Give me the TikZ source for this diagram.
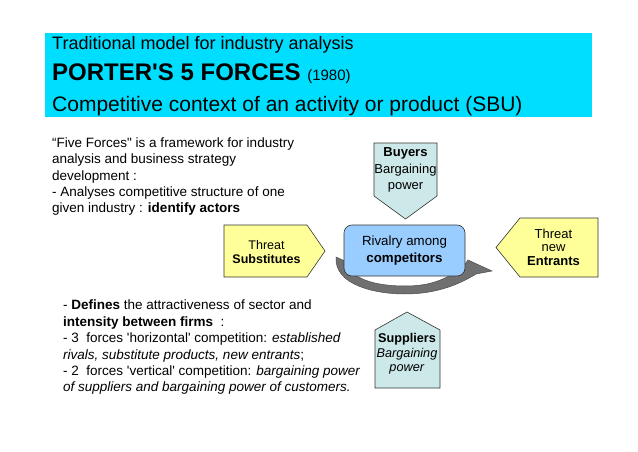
\documentclass[tikz,border=0pt]{standalone}
\usepackage{fontspec}
\setmainfont{Liberation Sans}
\usetikzlibrary{positioning}

\definecolor{bannerCyan}{RGB}{0,222,255}
\definecolor{powerFill}{RGB}{204,232,232}
\definecolor{threatFill}{RGB}{255,255,153}
\definecolor{rivalFill}{RGB}{153,204,255}
\definecolor{loopGray}{RGB}{112,112,112}

\begin{document}
\begin{tikzpicture}[
    x=1pt, y=1pt,
    shapebox/.style={
        draw=black!80,
        line width=0.6pt,
        line join=miter
    },
    label/.style={
        align=center,
        inner sep=0pt,
        font=\fontsize{13}{14.5}\selectfont
    },
    para/.style={
        align=left,
        anchor=north west,
        inner sep=0pt
    },
    titleline/.style={
        anchor=base west,
        inner sep=0pt
    }
]

\useasboundingbox (0,0) rectangle (638,451);

% --- Title banner ---
\node[fill=bannerCyan, minimum width=547, minimum height=84, anchor=south west, inner sep=0pt] (banner) at (45,334) {};
\node[titleline, font=\fontsize{18}{20}\selectfont] (kicker) at (52,401.5) {Traditional model for industry analysis};
\node[titleline, font=\fontsize{24}{26}\selectfont] (title) at (52,370.5) {\textbf{PORTER\textquotesingle S 5 FORCES} {\fontsize{15}{17}\selectfont(1980)}};
\node[titleline, font=\fontsize{21}{24}\selectfont] (subtitle) at (52,340) {Competitive context of an activity or product (SBU)};

% --- Left text blocks ---
\node[para, font=\fontsize{13.5}{16.3}\selectfont] (intro) at (52,313.5) {“Five Forces\textquotedbl{} is a framework for industry\\
analysis and business strategy\\
development :\\
- Analyses competitive structure of one\\
given industry : \textbf{identify actors}};

\node[para, font=\fontsize{13.5}{16.4}\selectfont] (defines) at (63,151) {- \textbf{Defines} the attractiveness of sector and\\
\textbf{intensity between firms}~ :\\
- 3~ forces \textquotesingle horizontal\textquotesingle{} competition: \textit{established}\\
\textit{rivals, substitute products, new entrants};\\
- 2~ forces \textquotesingle vertical\textquotesingle{} competition: \textit{bargaining power}\\
\textit{of suppliers and bargaining power of customers.}};

% --- Force shapes ---
\draw[shapebox, fill=powerFill] (374,308) -- (437,308) -- (437,255) -- (405.5,232) -- (374,255) -- cycle;
\draw[shapebox, fill=threatFill] (224,226) -- (307,226) -- (325,200) -- (307,174) -- (224,174) -- cycle;
\draw[shapebox, fill=threatFill] (520,233) -- (598,233) -- (598,174) -- (520,174) -- (496,203.5) -- cycle;
\draw[shapebox, fill=powerFill] (375,121) -- (407,139) -- (440,121) -- (440,63) -- (375,63) -- cycle;

% --- Rivalry loop (drawn under the box) ---
\draw[fill=loopGray, draw=black!70, line width=0.5pt]
    (336,194) .. controls (334,166) and (375,157) .. (405,157)
    .. controls (437,157) and (460,167) .. (476,177)
    -- (492,180) -- (468,191) -- (463,184)
    .. controls (445,171) and (430,165) .. (405,165)
    .. controls (375,165) and (350,172) .. (345,190) -- cycle;

\node[shapebox, fill=rivalFill, rounded corners=8, minimum width=121, minimum height=51, align=center, font=\fontsize{13.3}{17}\selectfont] (rivalry) at (404.5,200.5) {Rivalry among\\\textbf{competitors}};

% --- Labels ---
\node[label, font=\fontsize{13}{16.7}\selectfont] (buyers) at (405.5,281) {\textbf{Buyers}\\Bargaining\\power};
\node[label, font=\fontsize{12.5}{14}\selectfont] (substitutes) at (266.5,199) {Threat\\\textbf{Substitutes}};
\node[label, font=\fontsize{13}{13.5}\selectfont] (entrants) at (553.5,204) {Threat\\new\\\textbf{Entrants}};
\node[label, font=\fontsize{12.7}{14.5}\selectfont] (suppliers) at (407,97) {\textbf{Suppliers}\\\textit{Bargaining}\\\textit{power}};

\end{tikzpicture}
\end{document}
